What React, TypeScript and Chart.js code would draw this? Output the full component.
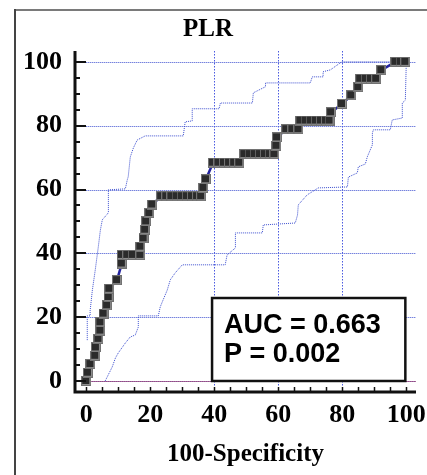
import React, { useEffect, useRef } from 'react';
import { Chart, registerables } from 'chart.js';

Chart.register(...registerables);

// ---- texts ----
const chartTitle = 'PLR';
const xAxisTitle = '100-Specificity';
const aucLabel = 'AUC = 0.663';
const pLabel = 'P = 0.002';

// ---- ticks / grid ----
const tickValues = [0, 20, 40, 60, 80, 100];
const minorTickValues = [0, 5, 10, 15, 20, 25, 30, 35, 40, 45, 50, 55, 60, 65, 70, 75, 80, 85, 90, 95, 100];
const hGridValues = [0, 20, 40, 60, 80, 100];
const vGridValues = [40, 60, 80];

// ---- ROC curve (100-Specificity, Sensitivity) ----
const rocX = [
  0, 0.5, 1.3, 2.8, 3.0, 3.8, 4.4, 4.4, 5.4, 6.5, 7.0, 7.2, 9.6,
  11.1, 11.1, 12.8, 14.5, 16.9, 16.9, 17.9, 18.4, 18.7, 19.7, 20.6,
  23.4, 25.0, 26.6, 28.2, 29.8, 31.4, 33.0, 34.6, 35.9,
  36.6, 37.4,
  39.6, 41.3, 43.0, 44.6, 46.2, 47.8,
  49.4, 51.0, 52.6, 54.2, 55.8, 57.3, 58.8,
  59.4, 59.6,
  62.5, 64.4, 66.3,
  66.9, 68.5, 70.1, 71.7, 73.3, 74.9, 76.0,
  76.5, 79.9, 82.8, 85.0,
  85.6, 87.3, 88.9, 90.6,
  92.2,
  96.6, 98.2, 99.7,
];
const rocY = [
  0, 2.6, 5.3, 7.9, 10.5, 13.2, 15.8, 18.4, 21.1, 23.7, 26.3, 28.9, 31.6,
  36.8, 39.5, 39.5, 39.5, 39.5, 42.1, 44.7, 47.4, 50.0, 52.6, 55.3,
  57.9, 57.9, 57.9, 57.9, 57.9, 57.9, 57.9, 57.9, 57.9,
  60.5, 63.2,
  68.4, 68.4, 68.4, 68.4, 68.4, 68.4,
  71.1, 71.1, 71.1, 71.1, 71.1, 71.1, 71.1,
  73.7, 76.3,
  78.9, 78.9, 78.9,
  81.6, 81.6, 81.6, 81.6, 81.6, 81.6, 81.6,
  84.2, 86.8, 89.5, 92.1,
  94.7, 94.7, 94.7, 94.7,
  97.4,
  100, 100, 100,
];

// ---- upper 95% confidence bound ----
const upperX = [
  0.3, 0.3, 1.2, 1.2, 1.9, 2.8, 3.75, 4.4, 5.0, 6.9, 6.9, 12.2, 12.8, 13.1,
  13.75, 14.7, 15.9, 18.4, 30.3, 30.9, 33.1, 33.1, 41.5, 41.9, 51.9, 52.2,
  56.0, 56.0, 70.0, 70.6, 74.0, 74.0, 76.3, 78.4, 79.4, 80.0, 100,
];
const upperY = [
  12.8, 20.4, 20.4, 22.0, 28.5, 34.8, 42.0, 47.3, 50.5, 52.7, 59.9, 60.2, 63.0, 64.0,
  70.2, 73.0, 75.5, 76.8, 76.8, 81.2, 81.5, 85.3, 85.3, 87.1, 87.1, 90.3,
  92.2, 93.4, 93.4, 95.3, 95.3, 96.9, 97.5, 99.0, 99.7, 100, 100,
];

// ---- lower 95% confidence bound ----
const lowerX = [
  5.9, 8.1, 9.1, 10.0, 12.2, 13.75, 15.3, 16.25, 16.25, 22.5, 23.1, 24.0, 25.3,
  26.25, 27.8, 30.0, 43.4, 44.0, 46.6, 46.6, 55.0, 55.3, 65.3, 66.0, 66.25, 69.0,
  72.5, 81.6, 81.9, 84.7, 85.0, 87.2, 87.8, 89.4, 89.4, 89.7, 95.0, 95.6, 98.75,
  98.75, 99.7, 100,
];
const lowerY = [
  0, 4.4, 7.2, 8.8, 11.9, 13.8, 14.4, 16.9, 20.4, 20.4, 23.2, 25.4, 28.5,
  31.7, 33.9, 36.4, 36.4, 39.5, 41.7, 46.4, 46.4, 48.9, 49.5, 52.0, 55.2, 58.3,
  60.5, 60.8, 63.9, 65.2, 67.1, 68.0, 70.2, 74.0, 77.7, 78.7, 78.7, 81.8, 82.4,
  87.1, 88.0, 100,
];

// ---- result box (in data units) ----
const boxX = [39.3, 99.7];
const boxY = [0, 26];
const boxTextX = 43.0;
const boxTextY = [17.5, 8.2];

const SERIF = '"Liberation Serif", "Times New Roman", serif';
const SANS = '"Liberation Sans", Arial, sans-serif';
const GRID_BLUE = '#3d4fd0';

export default function App() {
  const ref = useRef<HTMLCanvasElement>(null);

  useEffect(() => {
    const canvas = ref.current;
    if (!canvas) return;

    const marker = document.createElement('canvas');
    marker.width = 10;
    marker.height = 10;
    const m = marker.getContext('2d')!;
    m.fillStyle = '#8f8f8f';
    m.fillRect(0, 0, 10, 10);
    m.strokeStyle = '#727272';
    m.lineWidth = 1;
    m.strokeRect(0.5, 0.5, 9, 9);
    m.fillStyle = '#2b2b2b';
    m.fillRect(1, 1, 7, 7);

    const pts = (xs: number[], ys: number[]) => xs.map((x, i) => ({ x, y: ys[i] }));

    const decor = {
      id: 'decor',
      beforeDraw(chart: any) {
        const { ctx, width, height } = chart;
        ctx.save();
        ctx.fillStyle = '#fff';
        ctx.fillRect(0, 0, width, height);
        ctx.strokeStyle = '#7a7a7a';
        ctx.lineWidth = 2;
        ctx.beginPath();
        ctx.moveTo(14, 10);
        ctx.lineTo(width + 5, 10);
        ctx.stroke();
        ctx.strokeStyle = '#444';
        ctx.beginPath();
        ctx.moveTo(15, 9);
        ctx.lineTo(15, height + 5);
        ctx.stroke();
        ctx.restore();
      },
      beforeDatasetsDraw(chart: any) {
        const { ctx, chartArea: a, scales } = chart;
        const xs = scales.x;
        const ys = scales.y;
        ctx.save();
        ctx.strokeStyle = GRID_BLUE;
        ctx.lineWidth = 1;
        ctx.setLineDash([1, 1]);
        hGridValues.forEach((v) => {
          const py = Math.round(ys.getPixelForValue(v)) + 0.5;
          ctx.beginPath();
          ctx.moveTo(xs.getPixelForValue(0), py);
          ctx.lineTo(a.right, py);
          ctx.stroke();
        });
        ctx.strokeStyle = '#4a5ae0';
        ctx.setLineDash([1.5, 1.5]);
        vGridValues.forEach((v) => {
          const px = Math.round(xs.getPixelForValue(v)) + 0.5;
          ctx.beginPath();
          ctx.moveTo(px, Math.round(a.top));
          ctx.lineTo(px, a.bottom);
          ctx.stroke();
        });
        ctx.setLineDash([]);
        ctx.strokeStyle = 'rgba(150,40,90,0.6)';
        const p0 = Math.round(ys.getPixelForValue(0)) + 0.5;
        ctx.beginPath();
        ctx.moveTo(xs.getPixelForValue(0), p0);
        ctx.lineTo(a.right, p0);
        ctx.stroke();
        ctx.restore();
      },
      afterDatasetsDraw(chart: any) {
        const { ctx, chartArea: a, scales } = chart;
        const xs = scales.x;
        const ys = scales.y;
        ctx.save();
        const bx0 = xs.getPixelForValue(boxX[0]);
        const bx1 = xs.getPixelForValue(boxX[1]);
        const by0 = ys.getPixelForValue(boxY[1]);
        const by1 = ys.getPixelForValue(boxY[0]);
        ctx.fillStyle = '#fff';
        ctx.fillRect(bx0, by0, bx1 - bx0, by1 - by0);
        ctx.strokeStyle = '#111';
        ctx.lineWidth = 2.5;
        ctx.strokeRect(bx0, by0, bx1 - bx0, by1 - by0);
        ctx.fillStyle = '#000';
        ctx.font = `bold 27px ${SANS}`;
        ctx.textBaseline = 'middle';
        ctx.textAlign = 'left';
        ctx.fillText(aucLabel, xs.getPixelForValue(boxTextX), ys.getPixelForValue(boxTextY[0]));
        ctx.fillText(pLabel, xs.getPixelForValue(boxTextX), ys.getPixelForValue(boxTextY[1]));

        ctx.strokeStyle = '#111';
        ctx.lineWidth = 3;
        ctx.beginPath();
        ctx.moveTo(a.left, a.top);
        ctx.lineTo(a.left, a.bottom);
        ctx.lineTo(a.right, a.bottom);
        ctx.stroke();
        ctx.lineWidth = 2;
        minorTickValues.forEach((v) => {
          const py = Math.round(ys.getPixelForValue(v));
          const len = tickValues.includes(v) ? 11 : 5;
          ctx.beginPath();
          ctx.moveTo(a.left, py);
          ctx.lineTo(a.left + len, py);
          ctx.stroke();
        });
        ctx.lineWidth = 1.5;
        minorTickValues.forEach((v) => {
          const px = Math.round(xs.getPixelForValue(v)) + 0.5;
          ctx.beginPath();
          ctx.moveTo(px, a.bottom);
          ctx.lineTo(px, a.bottom - 5);
          ctx.stroke();
        });
        ctx.restore();
      },
    };

    const tickFont = { family: SERIF, size: 26, weight: 'bold' as const };

    const chart = new Chart(canvas, {
      type: 'scatter',
      data: {
        datasets: [
          {
            label: 'ROC',
            data: pts(rocX, rocY),
            showLine: true,
            borderColor: '#2323a0',
            borderWidth: 2.5,
            pointStyle: marker as any,
            pointRadius: 4,
            pointHoverRadius: 4,
          },
          {
            label: 'Upper 95% CI',
            data: pts(upperX, upperY),
            showLine: true,
            borderColor: GRID_BLUE,
            borderWidth: 1,
            borderDash: [1, 1],
            pointRadius: 0,
          },
          {
            label: 'Lower 95% CI',
            data: pts(lowerX, lowerY),
            showLine: true,
            borderColor: GRID_BLUE,
            borderWidth: 1,
            borderDash: [1, 1],
            pointRadius: 0,
          },
        ],
      },
      options: {
        responsive: false,
        animation: false,
        devicePixelRatio: 1,
        events: [],
        layout: { padding: { left: 0, right: 11, top: 0, bottom: 0 } },
        plugins: {
          legend: { display: false },
          tooltip: { enabled: false },
          title: {
            display: true,
            text: chartTitle,
            color: '#000',
            font: { family: SERIF, size: 25, weight: 'bold' },
            padding: { top: 15, bottom: 6 },
          },
        },
        scales: {
          x: {
            type: 'linear',
            min: -3.53,
            max: 103.03,
            grid: { display: false, drawTicks: false },
            border: { display: false },
            ticks: { color: '#000', font: tickFont, padding: 7.5, maxRotation: 0, autoSkip: false },
            afterBuildTicks: (s: any) => {
              s.ticks = tickValues.map((v) => ({ value: v }));
            },
            afterFit: (s: any) => {
              s.height = 83;
              s.paddingLeft = 0;
              s.paddingRight = 0;
            },
            title: {
              display: true,
              text: xAxisTitle,
              color: '#000',
              font: { family: SERIF, size: 25, weight: 'bold' },
              padding: { top: 0, bottom: 5 },
            },
          },
          y: {
            type: 'linear',
            min: -3.45,
            max: 103.4,
            grid: { display: false, drawTicks: false },
            border: { display: false },
            ticks: { color: '#000', font: tickFont, padding: 13, autoSkip: false },
            afterBuildTicks: (s: any) => {
              s.ticks = tickValues.map((v) => ({ value: v }));
            },
            afterFit: (s: any) => {
              s.width = 75;
              s.paddingTop = 0;
              s.paddingBottom = 0;
            },
          },
        },
      },
      plugins: [decor],
    });

    return () => chart.destroy();
  }, []);

  return (
    <div
      style={{
        position: 'absolute',
        left: 0,
        top: 0,
        width: 427,
        height: 475,
        overflow: 'hidden',
        background: '#fff',
      }}
    >
      <canvas
        ref={ref}
        width={427}
        height={475}
        style={{ position: 'absolute', left: 0, top: 0, width: 427, height: 475 }}
      />
    </div>
  );
}
